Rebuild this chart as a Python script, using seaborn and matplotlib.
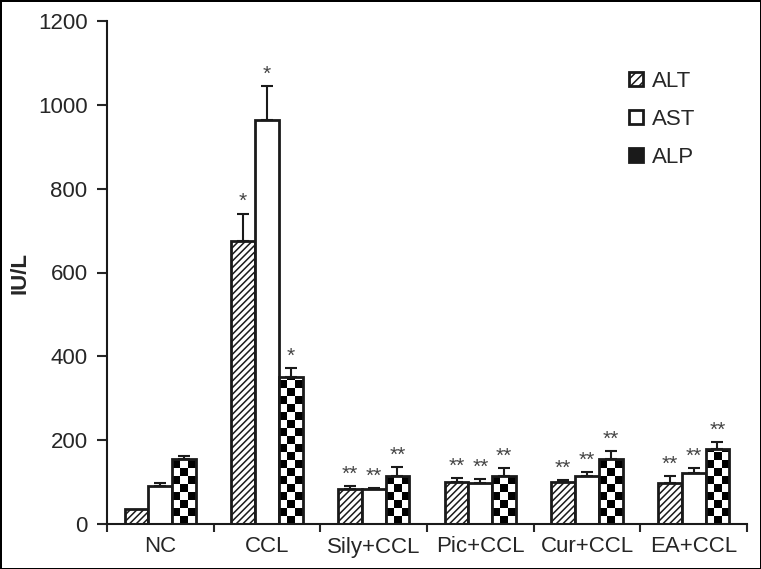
import numpy as np
import pandas as pd
import seaborn as sns
import matplotlib.pyplot as plt
from matplotlib.patches import Patch
from matplotlib.ticker import FixedLocator

groups = ["NC", "CCL", "Sily+CCL", "Pic+CCL", "Cur+CCL", "EA+CCL"]
enzymes = ["ALT", "AST", "ALP"]
alt = [36, 676, 83, 100, 100, 97]
ast = [90, 964, 83, 97, 114, 121]
alp = [155, 350, 114, 114, 155, 178]
alt_err = [0, 64, 7, 9, 5, 17]
ast_err = [8, 81, 3, 10, 10, 12]
alp_err = [7, 21, 22, 19, 19, 17]
stars = ["", "*", "**", "**", "**", "**"]

sns.set_style("ticks")
plt.rcParams["font.family"] = ["Liberation Sans", "DejaVu Sans"]
plt.rcParams["hatch.linewidth"] = 1.1

data = pd.DataFrame({
    "group": groups * 3,
    "enzyme": np.repeat(enzymes, len(groups)),
    "value": alt + ast + alp,
})
errs = [alt_err, ast_err, alp_err]

fig = plt.figure(figsize=(7.61, 5.69), dpi=100)
fig.patch.set_edgecolor("black")
fig.patch.set_linewidth(2)
ax = fig.add_axes([107 / 761, 45 / 569, 640 / 761, 503 / 569])

sns.barplot(data=data, x="group", y="value", hue="enzyme", order=groups,
            hue_order=enzymes, palette=["white"] * 3, edgecolor="#1a1a1a",
            linewidth=2, width=0.67, errorbar=None, legend=False, ax=ax)

bar_sets = list(ax.containers)
sq_h = 19  # checker square height in data units
for k, cont in enumerate(bar_sets):
    for i, bar in enumerate(cont):
        x0, w, h = bar.get_x(), bar.get_width(), bar.get_height()
        xc = x0 + w / 2
        if k == 0:
            bar.set_hatch("/////")
        if k == 2:
            bar.set_facecolor("none")
            bar.set_zorder(2)
            nrows = int(np.ceil(h / sq_h))
            board = (np.add.outer(np.arange(nrows), np.arange(3)) % 2).astype(float)
            im = ax.imshow(board, cmap="gray_r", extent=(x0, x0 + w, 0, nrows * sq_h),
                           origin="lower", aspect="auto", interpolation="nearest",
                           zorder=1.5)
            im.set_clip_path(bar)
        e = errs[k][i]
        if e > 0:
            ax.errorbar(xc, h, yerr=[[0], [e]], color="#1a1a1a", capsize=4,
                        elinewidth=1.5, capthick=1.5, zorder=3)
        if stars[i]:
            ax.text(xc, h + e + 6, stars[i], ha="center", va="bottom",
                    fontsize=15, color="#444444")

ax.set_xlim(-0.5, 5.5)
ax.set_ylim(0, 1200)
ax.set_yticks(range(0, 1201, 200))
ax.xaxis.set_minor_locator(FixedLocator(np.arange(-0.5, 6, 1)))
ax.tick_params(axis="x", which="major", length=0, pad=9, labelsize=16)
ax.tick_params(axis="x", which="minor", length=6, width=1.5, direction="out")
ax.tick_params(axis="y", length=7, width=1.5, direction="out", labelsize=16, pad=7)
for s in ["left", "bottom"]:
    ax.spines[s].set_linewidth(1.5)
    ax.spines[s].set_color("#1a1a1a")
sns.despine(ax=ax)
ax.set_xlabel("")
ax.set_ylabel("IU/L", fontsize=16, fontweight="bold", labelpad=5)

handles = [Patch(facecolor="white", edgecolor="#1a1a1a", hatch="////", linewidth=2),
           Patch(facecolor="white", edgecolor="#1a1a1a", linewidth=2),
           Patch(facecolor="#1a1a1a", edgecolor="#1a1a1a", linewidth=2)]
ax.legend(handles, enzymes, loc="upper left", bbox_to_anchor=(0.785, 0.94),
          frameon=False, fontsize=16, handlelength=0.6, handleheight=0.6,
          handletextpad=0.4, labelspacing=0.75)

fig.savefig("out.png", dpi=100)
